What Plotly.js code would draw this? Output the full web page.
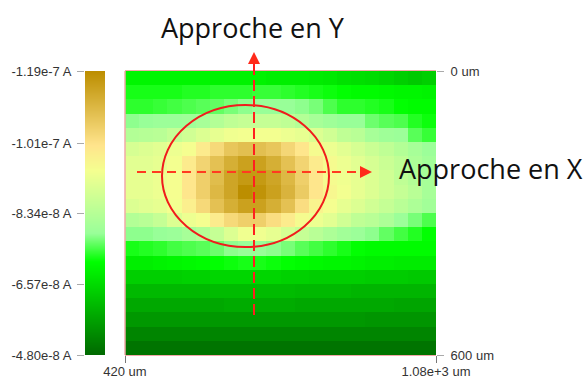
<!DOCTYPE html>
<html><head><meta charset="utf-8">
<script src="https://cdn.plot.ly/plotly-3.0.1.min.js"></script>
<style>html,body{margin:0;padding:0;background:#fff}#c{width:584px;height:380px}</style>
</head><body><div id="c"></div>
<script>
// Current magnitude, in units of 1e-8 A
const xCenters = [435,465,495,525,555,585,615,645,675,705,735,765,795,825,855,885,915,945,975,1005,1035,1065];
const yCenters = [15,45,75,105,135,165,195,225,255,285,315,345,375,405,435,465,495,525,555,585];
const current = [
[7.0,7.0,7.0,7.0,7.0,7.0,6.95,6.95,6.95,6.95,6.9,6.9,6.9,6.85,6.8,6.7,6.65,6.6,6.5,6.4,6.3,6.4],
[7.25,7.25,7.25,7.25,7.3,7.3,7.35,7.35,7.35,7.4,7.4,7.35,7.3,7.25,7.2,7.15,7.1,7.1,7.05,7.0,7.0,6.95],
[7.35,7.35,7.4,7.45,7.5,7.55,7.6,7.7,7.8,7.85,7.85,7.85,7.8,7.7,7.5,7.35,7.35,7.3,7.25,7.15,7.1,7.1],
[7.8,7.85,7.9,7.9,7.95,8.1,8.3,8.5,8.6,8.6,8.6,8.5,8.3,8.1,7.95,7.85,7.85,7.65,7.55,7.5,7.3,7.2],
[8.3,8.35,8.4,8.6,8.8,9.0,9.2,9.35,9.4,9.4,9.4,9.3,9.2,9.0,8.8,8.5,8.4,8.1,7.95,7.9,7.55,7.4],
[8.9,9.0,9.1,9.3,9.45,9.9,10.3,10.7,10.85,10.85,10.7,10.35,10.0,9.5,9.3,9.1,8.9,8.7,8.5,8.3,8.1,7.9],
[9.1,9.1,9.2,9.4,9.9,10.4,10.8,11.2,11.5,11.5,11.2,10.8,10.4,9.9,9.5,9.3,9.1,8.9,8.7,8.5,8.2,8.0],
[9.2,9.2,9.3,9.45,10.0,10.5,10.9,11.4,11.65,11.65,11.4,11.0,10.5,10.0,9.5,9.35,9.2,9.0,8.8,8.5,8.3,8.1],
[9.2,9.2,9.3,9.45,10.0,10.5,11.0,11.4,11.9,11.8,11.5,11.1,10.6,10.0,9.6,9.4,9.2,9.0,8.8,8.6,8.4,8.1],
[9.0,9.1,9.2,9.4,9.8,10.3,10.8,11.2,11.5,11.5,11.2,10.8,10.2,9.7,9.45,9.2,9.0,8.8,8.6,8.4,8.2,8.0],
[8.3,8.4,8.6,9.0,9.3,9.45,9.9,10.3,10.5,10.5,10.2,9.9,9.5,9.3,9.1,8.8,8.5,8.4,8.2,7.9,7.7,7.5],
[7.8,7.8,7.85,7.9,8.1,8.3,8.6,9.0,9.35,9.35,9.2,8.9,8.6,8.4,8.2,8.0,7.9,7.8,7.6,7.45,7.3,7.15],
[7.25,7.3,7.35,7.45,7.5,7.55,7.65,7.8,7.85,7.85,7.8,7.7,7.55,7.45,7.35,7.25,7.15,7.1,7.1,7.1,7.1,7.1],
[6.9,6.9,6.95,7.0,7.05,7.1,7.15,7.2,7.25,7.25,7.2,7.15,7.1,7.05,7.0,7.0,6.95,6.9,6.9,6.85,6.85,6.85],
[6.4,6.4,6.4,6.4,6.45,6.45,6.5,6.5,6.5,6.5,6.5,6.45,6.45,6.4,6.4,6.4,6.4,6.35,6.35,6.35,6.3,6.3],
[6.05,6.05,6.05,6.05,6.05,6.05,6.1,6.1,6.1,6.1,6.1,6.1,6.05,6.05,6.05,6.05,6.0,6.0,6.0,6.0,6.0,6.0],
[5.8,5.8,5.8,5.8,5.8,5.8,5.8,5.85,5.85,5.85,5.85,5.85,5.8,5.8,5.8,5.8,5.8,5.8,5.8,5.75,5.75,5.75],
[5.55,5.55,5.55,5.55,5.55,5.55,5.55,5.55,5.55,5.55,5.55,5.55,5.55,5.55,5.55,5.55,5.55,5.5,5.5,5.5,5.5,5.5],
[5.25,5.25,5.25,5.25,5.25,5.25,5.25,5.25,5.25,5.25,5.25,5.25,5.25,5.25,5.25,5.25,5.25,5.25,5.25,5.25,5.25,5.25],
[4.98,4.98,4.98,4.98,4.98,4.98,4.98,4.98,4.98,4.98,4.98,4.98,4.98,4.98,4.98,4.98,4.98,4.98,4.98,4.98,4.98,4.98]
];
const barTickVals = [4.8,6.57,8.34,10.1,11.9];
const barTickText = ['-4.80e-8 A','-6.57e-8 A','-8.34e-8 A','-1.01e-7 A','-1.19e-7 A'];
const barEnds = [4.8,11.9];
const xTickVals = [420,1080];
const xTickText = ['420 um','1.08e+3 um'];
const yTickVals = [0,600];
const yTickText = ['0 um','600 um'];

const W=584,H=380;
const px=v=>v/W, py=v=>1-v/H;
const scale=[[0,'#006800'],[0.33,'#00ff00'],[0.43,'#99ff99'],[0.65,'#f4ff90'],[0.74,'#ffe48c'],[1,'#bc8e00']];
const tickFont={family:'"Liberation Sans",Arial,sans-serif',size:13,color:'#333'};
const bigFont={family:'"Open Sans",sans-serif',size:27,color:'#111'};
const red='#ff2a1a';

const traces=[
 {type:'heatmap',x:xCenters,y:yCenters,z:current,zmin:4.8,zmax:11.9,colorscale:scale,showscale:false,xaxis:'x',yaxis:'y',hoverinfo:'skip'},
 {type:'heatmap',x:[0,1],y:barEnds,z:[[barEnds[0],barEnds[0]],[barEnds[1],barEnds[1]]],zmin:4.8,zmax:11.9,colorscale:scale,showscale:false,zsmooth:'best',xaxis:'x2',yaxis:'y2',hoverinfo:'skip'}
];
const arrow=(x,y,ax,ay)=>({xref:'paper',yref:'paper',axref:'pixel',ayref:'pixel',x:px(x),y:py(y),ax:ax,ay:ay,text:'',showarrow:true,arrowhead:2,arrowsize:1.2,arrowwidth:2,arrowcolor:red});
const layout={
 width:W,height:H,margin:{l:0,r:0,t:0,b:0},paper_bgcolor:'#fff',plot_bgcolor:'#fff',showlegend:false,
 xaxis:{domain:[px(125),px(436)],range:[420,1080],tickmode:'array',tickvals:xTickVals,ticktext:xTickText,ticks:'outside',ticklen:7,tickcolor:'#777',tickfont:tickFont,ticklabelstandoff:-3,showgrid:false,zeroline:false,showline:true,mirror:true,linecolor:'#f2a8a8',linewidth:1,anchor:'y'},
 yaxis:{domain:[py(355),py(71)],range:[600,0],side:'right',tickmode:'array',tickvals:yTickVals,ticktext:yTickText,ticks:'outside',ticklen:7,tickcolor:'#aaa',tickfont:tickFont,ticklabelstandoff:4,showgrid:false,zeroline:false,showline:false,anchor:'x'},
 xaxis2:{domain:[px(85),px(105)],range:[0,1],visible:false,anchor:'y2'},
 yaxis2:{domain:[py(355),py(71)],range:[4.8,11.9],side:'left',tickmode:'array',tickvals:barTickVals,ticktext:barTickText,ticks:'outside',ticklen:7,tickcolor:'#aaa',tickfont:tickFont,ticklabelstandoff:3,showgrid:false,zeroline:false,showline:false,anchor:'x2'},
 shapes:[
  {type:'line',xref:'paper',yref:'paper',x0:px(125),x1:px(125),y0:py(71),y1:py(355),line:{color:'#f2a8a8',width:1.5}},
  {type:'circle',xref:'paper',yref:'paper',x0:px(162),x1:px(329),y0:py(247),y1:py(105),line:{color:'#f01c1c',width:2}},
  {type:'line',xref:'paper',yref:'paper',x0:px(137),x1:px(362),y0:py(172),y1:py(172),line:{color:'#ff3a20',width:2,dash:'9px,6px'}},
  {type:'line',xref:'paper',yref:'paper',x0:px(254),x1:px(254),y0:py(315),y1:py(60),line:{color:'#ff1f1f',width:2,dash:'11px,5px'}}
 ],
 annotations:[
  arrow(372,172,-10,0),
  arrow(254,52,0,10),
  {xref:'paper',yref:'paper',x:px(253),y:py(27),text:'Approche en Y',showarrow:false,font:bigFont,xanchor:'center',yanchor:'middle'},
  {xref:'paper',yref:'paper',x:px(491),y:py(168),text:'Approche en X',showarrow:false,font:bigFont,xanchor:'center',yanchor:'middle'}
 ]
};
Plotly.newPlot('c',traces,layout,{displayModeBar:false,staticPlot:true});
</script></body></html>
